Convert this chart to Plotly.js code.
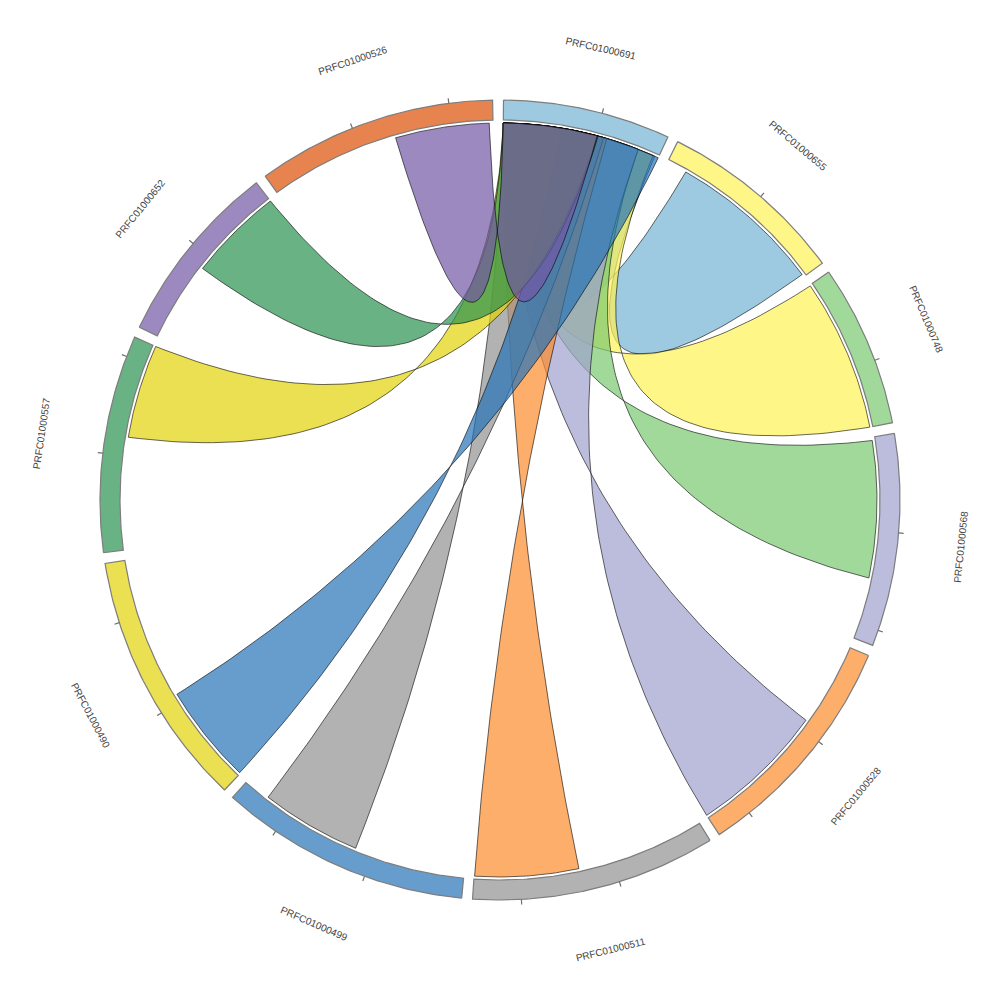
<!DOCTYPE html>
<html><head><meta charset="utf-8">
<script src="https://cdn.plot.ly/plotly-3.0.1.min.js"></script>
<style>html,body{margin:0;padding:0;background:#fff}</style>
</head><body><div id="chart" style="width:1000px;height:1000px"></div>
<script>
// ---- data ----
const groupNames = ['PRFC01000691','PRFC01000655','PRFC01000748','PRFC01000568','PRFC01000528','PRFC01000511','PRFC01000499','PRFC01000490','PRFC01000557','PRFC01000652','PRFC01000526'];
const groupSizes = [17.0, 19.1, 16.5, 21.6, 23.7, 24.9, 25.5, 26.1, 22.1, 18.8, 24.4];
const groupColors = ['rgba(116,179,212,0.7)','rgba(255,242,85,0.7)','rgba(121,201,112,0.7)','rgba(159,161,205,0.7)','rgba(252,139,44,0.7)','rgba(146,146,146,0.7)','rgba(39,116,182,0.7)','rgba(226,209,8,0.7)','rgba(42,145,78,0.7)','rgba(114,87,165,0.7)','rgba(219,79,4,0.7)'];
// ribbons: all link a group to the hub PRFC01000691 (index 0)
const ribbonGroup     = [1, 2, 3, 4, 5, 6, 7, 8, 9, 10];
const ribbonValue     = [16.6, 16.4, 14.7, 14.7, 11.15, 10.8, 10.7, 10.1, 10.2, 10.1];
const ribbonSrcOffset = [2.2, 0.1, 0.35, 9.0, 13.7, 11.9, 0.1, 12.0, 8.6, 13.9];
const ribbonHubOffset = [0, 0, 0, 0, 0, 0, 6.3, 0, 0, 0];
const ribbonColorIdx  = [0, 1, 2, 3, 4, 5, 6, 7, 8, 9];
const tickStep = 10;

// ---- layout params ----
const R_OUT = 400, R_IN = 380, R_RIB = 377, R_LAB = 463, GAP = 1.56, START = 0.5;
const total = groupSizes.reduce((a,b)=>a+b,0);
const degPerUnit = (360 - GAP*groupSizes.length)/total;
const gStart = [];
{ let a = START; for (let i=0;i<groupSizes.length;i++){ gStart.push(a); a += groupSizes[i]*degPerUnit + GAP; } }
const rad = d => d*Math.PI/180;
const pt = (r,d) => [r*Math.sin(rad(d)), r*Math.cos(rad(d))];

function arcPts(r, a0, a1, n){ const out=[]; for(let i=0;i<=n;i++){ out.push(pt(r, a0+(a1-a0)*i/n)); } return out; }
function bez(P,Q,n){
  const k=0.035, C=[k*(P[0]+Q[0]), k*(P[1]+Q[1])], out=[];
  for(let i=0;i<=n;i++){ const t=i/n, u=1-t;
    out.push([u*u*P[0]+2*t*u*C[0]+t*t*Q[0], u*u*P[1]+2*t*u*C[1]+t*t*Q[1]]); }
  return out;
}
const traces = [];
// ribbons
for (let k=0;k<ribbonGroup.length;k++){
  const g = ribbonGroup[k];
  const s0 = gStart[g] + ribbonSrcOffset[k]*degPerUnit, s1 = s0 + ribbonValue[k]*degPerUnit;
  const t0 = gStart[0] + ribbonHubOffset[k]*degPerUnit, t1 = t0 + ribbonValue[k]*degPerUnit;
  let pts = arcPts(R_RIB, s0, s1, 40);
  pts = pts.concat(bez(pt(R_RIB,s1), pt(R_RIB,t1), 80));
  pts = pts.concat(arcPts(R_RIB, t1, t0, 40));
  pts = pts.concat(bez(pt(R_RIB,t0), pt(R_RIB,s0), 80));
  traces.push({type:'scatter', mode:'lines', x:pts.map(p=>p[0]), y:pts.map(p=>p[1]), fill:'toself',
    fillcolor: groupColors[ribbonColorIdx[k]], line:{color:'rgba(0,0,0,0.85)', width:0.7}, hoverinfo:'skip', showlegend:false});
}
// group arcs
for (let i=0;i<groupSizes.length;i++){
  const a0 = gStart[i], a1 = a0 + groupSizes[i]*degPerUnit;
  const pts = arcPts(R_OUT, a0, a1, 80).concat(arcPts(R_IN, a1, a0, 80));
  pts.push(pts[0]);
  traces.push({type:'scatter', mode:'lines', x:pts.map(p=>p[0]), y:pts.map(p=>p[1]), fill:'toself',
    fillcolor: groupColors[i], line:{color:'rgb(125,125,125)', width:1.2}, hoverinfo:'skip', showlegend:false});
}
// ticks
{ const tx=[], ty=[];
  for (let i=0;i<groupSizes.length;i++){
    for (let v=tickStep; v<groupSizes[i]; v+=tickStep){
      const d = gStart[i] + v*degPerUnit; const p0=pt(R_OUT,d), p1=pt(R_OUT+5,d);
      tx.push(p0[0],p1[0],null); ty.push(p0[1],p1[1],null);
    }
  }
  traces.push({type:'scatter', mode:'lines', x:tx, y:ty, line:{color:'rgb(110,110,110)', width:1.2}, hoverinfo:'skip', showlegend:false});
}
// labels
const annotations = groupNames.map((name,i)=>{
  const mid = gStart[i] + groupSizes[i]*degPerUnit/2; const p = pt(R_LAB, mid);
  let ang = mid; if (mid>90 && mid<=270) ang = mid-180; else if (mid>270) ang = mid-360;
  return {x:p[0], y:p[1], xref:'x', yref:'y', text:name, showarrow:false, textangle:ang,
    font:{family:'Liberation Sans, Arial, sans-serif', size:10, color:'#444'}, xanchor:'center', yanchor:'middle'};
});
const layout = {width:1000, height:1000, margin:{l:0,r:0,t:0,b:0}, paper_bgcolor:'#fff', plot_bgcolor:'#fff',
  xaxis:{range:[-500,500], visible:false, fixedrange:true},
  yaxis:{range:[-500,500], visible:false, fixedrange:true},
  showlegend:false, annotations:annotations, hovermode:false};
Plotly.newPlot('chart', traces, layout, {displayModeBar:false, staticPlot:true});
</script></body></html>
